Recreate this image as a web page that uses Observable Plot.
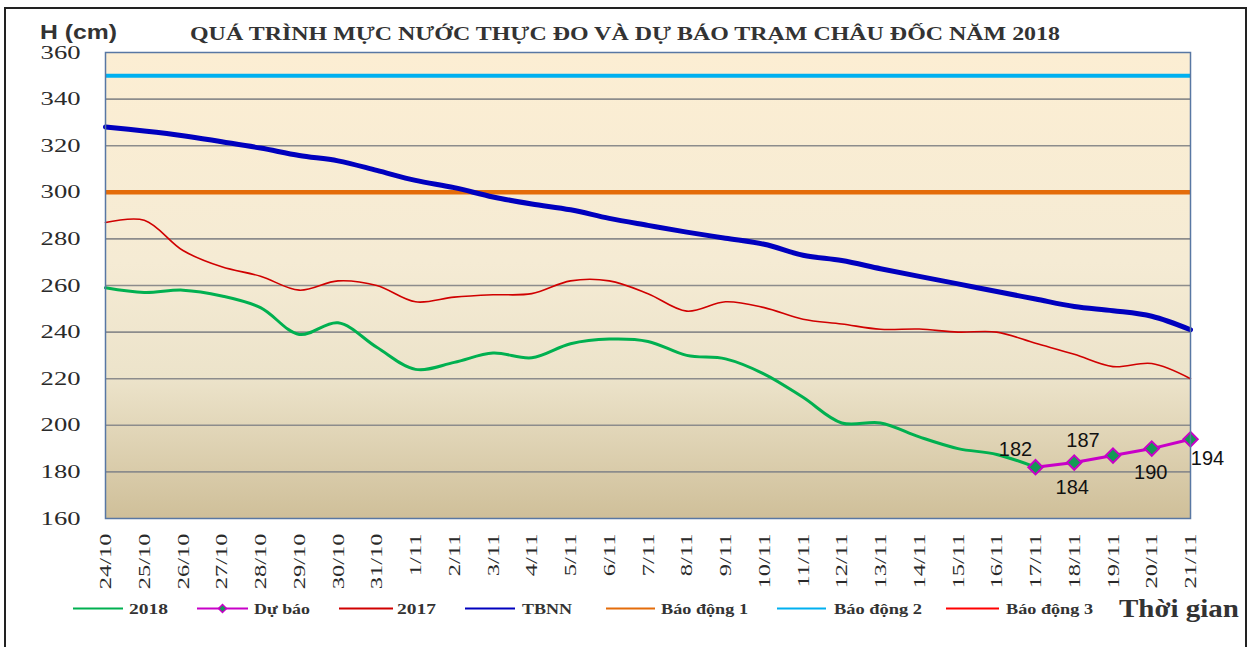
<!DOCTYPE html>
<html>
<head>
<meta charset="utf-8">
<script src="https://cdn.jsdelivr.net/npm/d3@7"></script>
<script src="https://cdn.jsdelivr.net/npm/@observablehq/plot@0.6"></script>
<style>
  html, body { margin: 0; padding: 0; background: #fff; }
  body { width: 1253px; height: 647px; overflow: hidden; position: relative; }
  #frameBorder { position: absolute; left: 4px; top: 7px; width: 1243px; height: 700px;
    border: 2px solid #222; box-sizing: border-box; }
  #chart { position: absolute; left: 0; top: 0; }
  #overlay { position: absolute; left: 0; top: 0; pointer-events: none; }
</style>
</head>
<body>
<div id="frameBorder"></div>
<div id="chart"></div>
<svg id="overlay" width="1253" height="647"></svg>
<script>
// ---------------- DATA ----------------
const dates = ["24/10","25/10","26/10","27/10","28/10","29/10","30/10","31/10",
  "1/11","2/11","3/11","4/11","5/11","6/11","7/11","8/11","9/11","10/11",
  "11/11","12/11","13/11","14/11","15/11","16/11","17/11","18/11","19/11","20/11","21/11"];

// Observed 2018 (24/10 .. 17/11)
const h2018 = [259, 257, 258, 255.5, 250.5, 239, 244, 233.5, 224, 227, 231, 229, 235,
  237, 236, 230, 228.5, 222, 212, 201, 201, 195, 190, 187.5, 182];

// Forecast (Dự báo)
const forecastDates = ["17/11","18/11","19/11","20/11","21/11"];
const forecast = [182, 184, 187, 190, 194];

// Same period 2017
const h2017 = [287, 288, 275, 268, 264, 258, 262, 260, 253, 255, 256, 256.5, 262, 262,
  256.5, 249, 253, 250.5, 245.5, 243.5, 241.2, 241.3, 240, 240, 235.2, 230.5, 225.2, 226.5, 220];

// Multi-year average (TBNN)
const tbnn = [328, 326.3, 324.3, 321.7, 319, 315.8, 313.5, 309.4, 305.1, 302, 298, 295,
  292.5, 288.8, 285.8, 282.9, 280.3, 277.7, 273, 270.7, 267.2, 263.9, 260.7, 257.4,
  254.2, 251, 249.2, 246.8, 241];

// Alarm levels (Báo động 1, 2, 3)
const alarmNames = ["Báo động 1", "Báo động 2", "Báo động 3"];
const alarmValues = [300, 350, 400];

const yTicks = [160, 180, 200, 220, 240, 260, 280, 300, 320, 340, 360];

// ---------------- CHART ----------------
const colors = {
  "2018": "#00B050", "Dự báo": "#C800C8", "2017": "#D00000", "TBNN": "#0000BE",
  "Báo động 1": "#E46C0A", "Báo động 2": "#00B0F0", "Báo động 3": "#FF0000"
};
const rows = (vals, ds) => vals.map((v, i) => ({date: ds[i], value: v}));
const yMin = 160, yMax = 360;

function bgDefs() {
  const defs = d3.create("svg:defs");
  const g = defs.append("linearGradient").attr("id", "plotBg")
    .attr("x1", 0).attr("y1", 0).attr("x2", 0).attr("y2", 1);
  [[0, "#FCEED3"], [0.45, "#F5EBD4"], [0.7, "#ECE3CA"], [1, "#CFBF99"]]
    .forEach(([o, c]) => g.append("stop").attr("offset", o).attr("stop-color", c));
  return defs.node();
}

const labelPlacement = [[-20, -18], [-2, 25], [-30, -15], [-1, 24], [17, 19]];

const chart = Plot.plot({
  width: 1253,
  height: 647,
  marginLeft: 105,
  marginRight: 63,
  marginTop: 52,
  marginBottom: 129,
  style: {fontFamily: "'Liberation Serif', serif", fontSize: "19px", color: "#2a2a2a",
    background: "transparent", overflow: "visible"},
  x: {type: "point", domain: dates, padding: 0, round: false, label: null, tickRotate: -90,
    tickSize: 0, tickPadding: 15},
  y: {domain: [yMin, yMax], ticks: yTicks, tickSize: 0, tickPadding: 25, label: null},
  marks: [
    bgDefs,
    Plot.frame({fill: "url(#plotBg)", stroke: "none"}),
    Plot.ruleY(yTicks.filter(v => v > yMin && v < yMax), {stroke: "#8C8C8C", strokeWidth: 1.6}),
    ...alarmValues.map((v, i) => ({v, name: alarmNames[i]}))
      .filter(d => d.v <= yMax)
      .map(d => Plot.ruleY([d.v], {stroke: colors[d.name], strokeWidth: d.name === "Báo động 1" ? 4.5 : 4})),
    Plot.line(rows(tbnn, dates), {x: "date", y: "value", stroke: colors["TBNN"], strokeWidth: 5, curve: "catmull-rom"}),
    Plot.line(rows(h2017, dates), {x: "date", y: "value", stroke: colors["2017"], strokeWidth: 1.6, curve: "catmull-rom"}),
    Plot.line(rows(h2018, dates), {x: "date", y: "value", stroke: colors["2018"], strokeWidth: 3, curve: "catmull-rom"}),
    Plot.line(rows(forecast, forecastDates), {x: "date", y: "value", stroke: colors["Dự báo"], strokeWidth: 3}),
    Plot.dot(rows(forecast, forecastDates), {x: "date", y: "value", symbol: "diamond2", r: 6.5,
      fill: "#139A55", stroke: colors["Dự báo"], strokeWidth: 2}),
    ...forecast.map((v, i) => Plot.text([{date: forecastDates[i], value: v}], {
      x: "date", y: "value", text: d => String(d.value),
      dx: labelPlacement[i][0], dy: labelPlacement[i][1],
      fontFamily: "'Liberation Sans', Arial, sans-serif", fontSize: 20, fill: "#111"
    })),
    Plot.frame({stroke: "#5877A3", strokeWidth: 1.5})
  ]
});
document.getElementById("chart").appendChild(chart);

// stretch axis tick labels like the original
d3.select(chart).selectAll("g[aria-label^='x-axis'] text").attr("font-size", 17.5);
function stretchTexts(sel, factor) {
  d3.select(chart).selectAll(sel).each(function() {
    const len = this.getComputedTextLength();
    if (len > 0) {
      this.setAttribute("textLength", (len * factor).toFixed(1));
      this.setAttribute("lengthAdjust", "spacingAndGlyphs");
    }
  });
}
stretchTexts("g[aria-label^='y-axis'] text", 1.4);
stretchTexts("g[aria-label^='x-axis'] text", 1.4);

// ---------------- TITLE, UNIT, LEGEND ----------------
const ov = d3.select("#overlay");
function addText(str, x, y, opts) {
  const t = ov.append("text").attr("x", x).attr("y", y).text(str)
    .attr("font-family", opts.family || "'Liberation Serif', serif")
    .attr("font-size", opts.size).attr("font-weight", opts.weight || "bold")
    .attr("fill", opts.fill || "#333");
  if (opts.width) t.attr("textLength", opts.width).attr("lengthAdjust", "spacingAndGlyphs");
  return t;
}
addText("H (cm)", 40, 39, {family: "'Liberation Sans', Arial, sans-serif", size: 19.5, width: 77, fill: "#333"});
addText("QUÁ TRÌNH MỰC NƯỚC THỰC ĐO VÀ DỰ BÁO TRẠM CHÂU ĐỐC NĂM 2018", 190, 40,
  {size: 19, width: 870, fill: "#333"});

const legendItems = [
  {name: "2018", x1: 73, x2: 123, tx: 129, tw: 39},
  {name: "Dự báo", x1: 197, x2: 248, tx: 254, tw: 56, marker: true},
  {name: "2017", x1: 339, x2: 393, tx: 397, tw: 39},
  {name: "TBNN", x1: 465, x2: 515, tx: 522, tw: 50},
  {name: "Báo động 1", x1: 606, x2: 655, tx: 661, tw: 87},
  {name: "Báo động 2", x1: 777, x2: 826, tx: 834, tw: 88},
  {name: "Báo động 3", x1: 946, x2: 999, tx: 1006, tw: 87}
];
const ly = 608.5;
legendItems.forEach(it => {
  ov.append("line").attr("x1", it.x1).attr("x2", it.x2).attr("y1", ly).attr("y2", ly)
    .attr("stroke", colors[it.name]).attr("stroke-width", 2);
  if (it.marker) {
    const cx = (it.x1 + it.x2) / 2;
    ov.append("path").attr("d", d3.symbol(d3.symbolDiamond2, 40)())
      .attr("transform", `translate(${cx},${ly})`)
      .attr("fill", "#139A55").attr("stroke", colors[it.name]).attr("stroke-width", 1.5);
  }
  addText(it.name, it.tx, 614, {size: 15, width: it.tw, fill: "#333"});
});
addText("Thời gian", 1119, 617, {size: 26, width: 120, fill: "#333"});
</script>
</body>
</html>
